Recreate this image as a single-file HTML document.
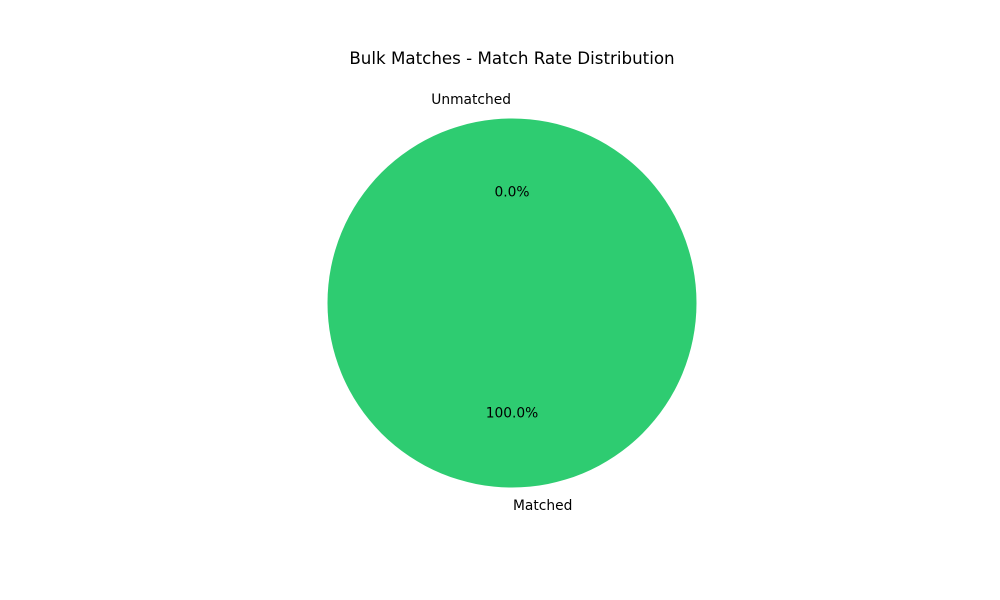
<!DOCTYPE html>
<html><head><meta charset="utf-8"><style>
html,body{margin:0;padding:0;background:#fff;}
svg{display:block;font-family:"DejaVu Sans","Liberation Sans",sans-serif;}
</style></head><body>
<svg id="chart" width="1000" height="600" viewBox="0 0 1000 600">
<rect width="1000" height="600" fill="#fff"/>
<text x="512" y="64" text-anchor="middle" font-size="16.7" fill="#000">Bulk Matches - Match Rate Distribution</text>
<g id="slices"></g>
</svg>
<script>
const categories = ["Matched", "Unmatched"];
const values = [100, 0];
const colors = ["#2ecc71", "#e74c3c"];
const labelAnchors = ["start", "end"];

const cx = 512, cy = 303, r = 184.5;
const g = document.getElementById('slices');
const NS = "http://www.w3.org/2000/svg";
const total = values.reduce((a,b)=>a+b,0);
let start = 90;
function pt(angDeg, rad){ const a=angDeg*Math.PI/180; return [cx+rad*Math.cos(a), cy-rad*Math.sin(a)]; }
categories.forEach((cat,i)=>{
  const frac = values[i]/total;
  const sweep = frac*360;
  const end = start + sweep;
  let el;
  if (frac >= 0.99999) {
    el = document.createElementNS(NS,'circle');
    el.setAttribute('cx',cx); el.setAttribute('cy',cy); el.setAttribute('r',r);
  } else {
    el = document.createElementNS(NS,'path');
    const [x1,y1]=pt(start,r), [x2,y2]=pt(end,r);
    el.setAttribute('d',`M${cx},${cy} L${x1},${y1} A${r},${r} 0 ${sweep>180?1:0} 0 ${x2},${y2} Z`);
  }
  el.setAttribute('fill',colors[i]);
  
  
  g.appendChild(el);
  const mid = start + sweep/2;
  const [lx,ly] = pt(mid, r*1.1);
  const t = document.createElementNS(NS,'text');
  t.setAttribute('x', lx + (labelAnchors[i]==='start'?1:-1));
  t.setAttribute('y', ly + 4);
  t.setAttribute('text-anchor', labelAnchors[i]);
  t.setAttribute('font-size','13.8');
  t.textContent = cat;
  
  
  g.appendChild(t);
  const [px,py] = pt(mid, r*0.6);
  const p = document.createElementNS(NS,'text');
  p.setAttribute('x', px); p.setAttribute('y', py + 4);
  p.setAttribute('text-anchor','middle');
  p.setAttribute('font-size','13.8');
  p.textContent = (frac*100).toFixed(1) + '%';
  
  
  g.appendChild(p);
  start = end;
});
</script>
</body></html>
